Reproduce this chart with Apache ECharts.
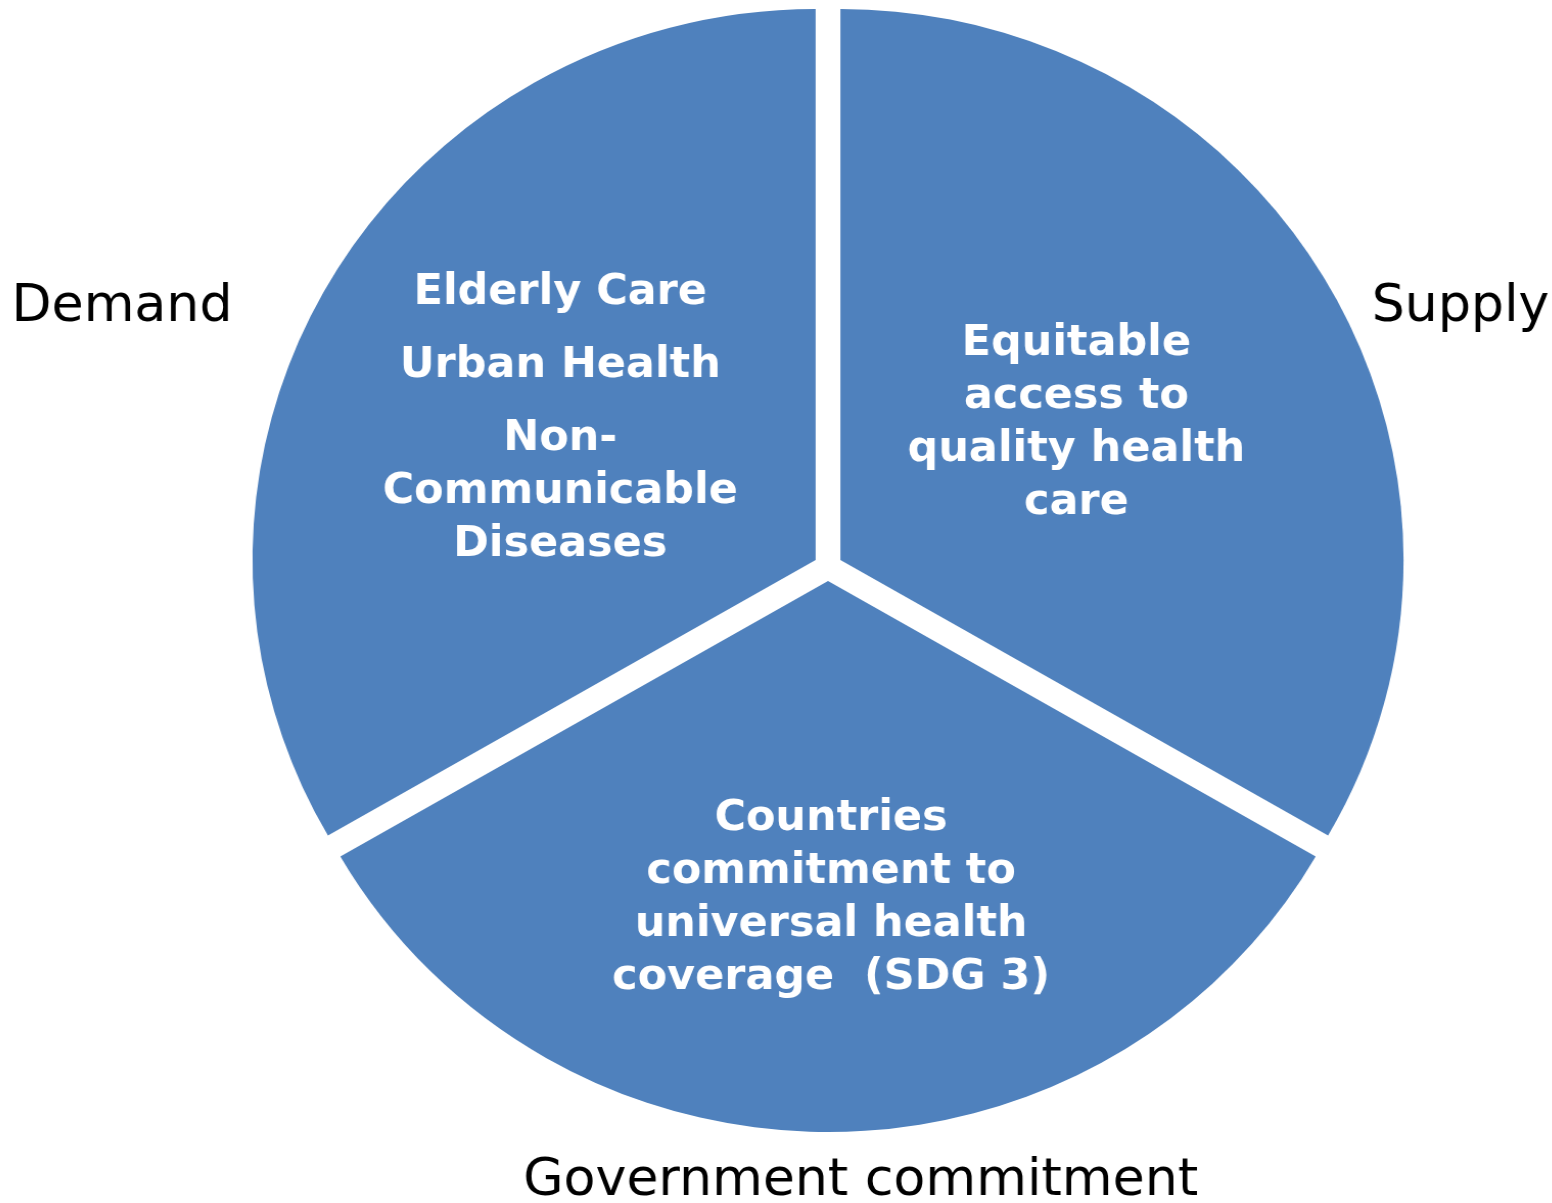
<!DOCTYPE html>
<html>
<head>
<meta charset="utf-8">
<script src="https://cdn.jsdelivr.net/npm/echarts@6/dist/echarts.min.js"></script>
<style>
  html, body { margin: 0; padding: 0; background: #ffffff; overflow: hidden; }
  /* the source picture is a circle stretched a little sideways */
  #chart { width: 1552px; height: 1203px; transform: scaleX(1.022); transform-origin: 828px 0; }
</style>
</head>
<body>
<div id="chart"></div>
<script>
// three equal parts, clockwise from the top
const categories = ["Supply", "Government commitment", "Demand"];
const values = [1, 1, 1];
// text written inside each slice (one list item per entry, '\n' = wrapped line)
const innerItems = [
  ["Equitable\naccess to\nquality health\ncare"],
  ["Countries\ncommitment to\nuniversal health\ncoverage  (SDG 3)"],
  ["Elderly Care", "Urban Health", "Non-\nCommunicable\nDiseases"]
];

const chart = echarts.init(document.getElementById("chart"));

// label anchors (chart pixels, before the css stretch)
const innerPos = [[1071, 424], [831, 899], [566, 419]];
const outerPos = [[1360, 308, "left"], [860, 1182, "center"], [29, 308, "left"]];

const pieBase = {
  type: "pie",
  center: [828, 567],
  radius: [0, 551],
  startAngle: 90,
  clockwise: true,
  avoidLabelOverlap: false,
  emphasis: { disabled: true },
  animation: false,
};

// label-only pie on top of the slices (selected slices would reset label positions)
const labelPie = (label, pos) =>
  Object.assign({}, pieBase, {
    silent: true,
    itemStyle: { color: "rgba(0,0,0,0)" },
    data: categories.map((c, i) => ({ name: c, value: values[i] })),
    label: Object.assign({ show: true, position: "outside" }, label),
    labelLine: { show: false },
    labelLayout: (p) => ({
      x: pos[p.dataIndex][0],
      y: pos[p.dataIndex][1],
      align: pos[p.dataIndex][2] || "center",
      verticalAlign: "middle",
    }),
  });

chart.setOption({
  backgroundColor: "#ffffff",
  series: [
    Object.assign({}, pieBase, {
      itemStyle: { color: "#4F81BD" },
      selectedMode: "multiple",
      selectedOffset: 14,
      data: categories.map((c, i) => ({ name: c, value: values[i], selected: true })),
      label: { show: false },
      labelLine: { show: false },
    }),
    labelPie(
      {
        color: "#ffffff",
        align: "center",
        formatter: (p) =>
          innerItems[p.dataIndex]
            .map((item) => item.split("\n").map((l) => "{t|" + l + "}").join("\n"))
            .join("\n{s| }\n"),
        rich: {
          t: {
            color: "#ffffff",
            fontFamily: "DejaVu Sans",
            fontWeight: "bold",
            fontSize: 42,
            lineHeight: 53,
            align: "center",
          },
          s: { fontSize: 1, lineHeight: 20 },
        },
      },
      innerPos
    ),
    labelPie(
      {
        color: "#000000",
        fontFamily: "DejaVu Sans",
        fontSize: 51,
        formatter: "{b}",
      },
      outerPos
    ),
  ],
});
</script>
</body>
</html>
